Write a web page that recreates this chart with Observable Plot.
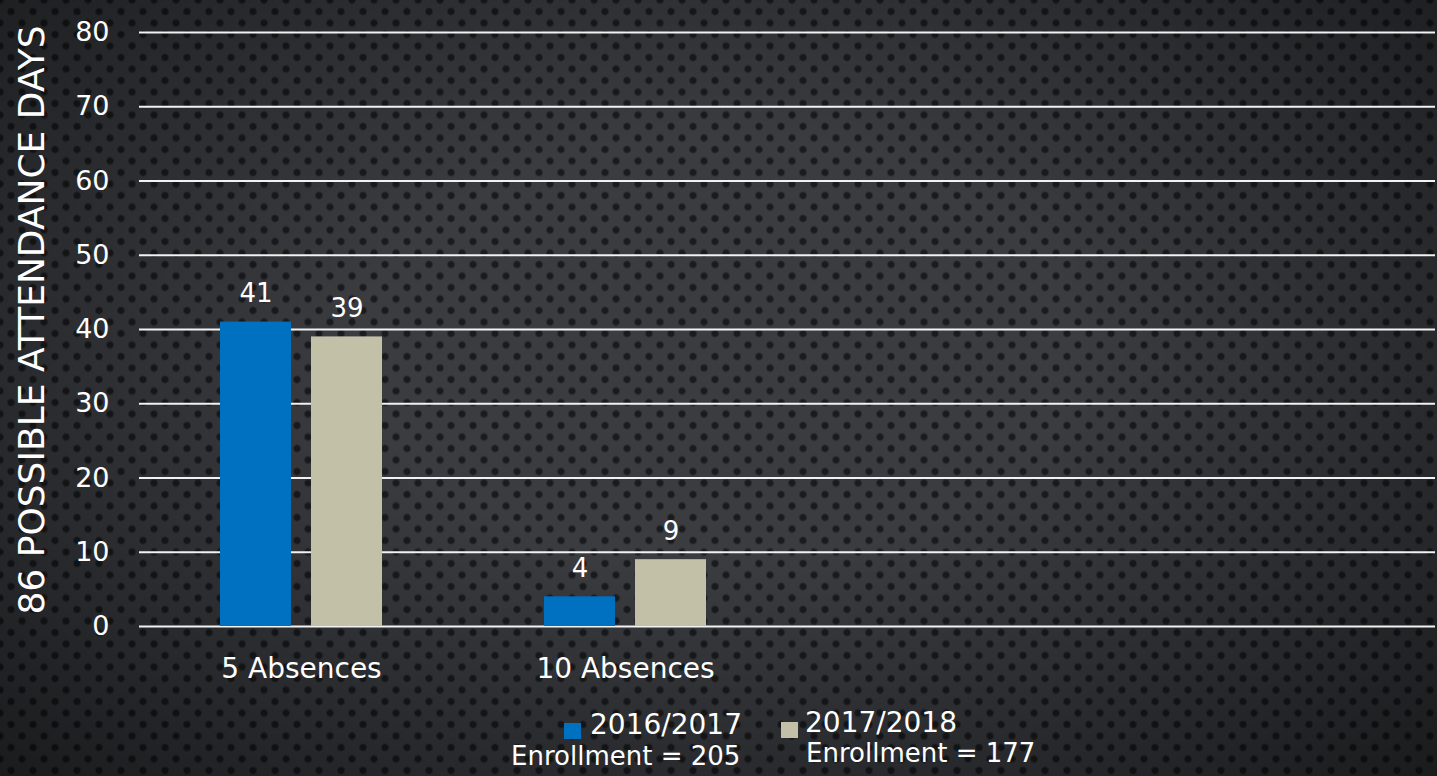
<!DOCTYPE html>
<html>
<head>
<meta charset="utf-8">
<script src="https://cdn.jsdelivr.net/npm/d3@7"></script>
<script src="https://cdn.jsdelivr.net/npm/@observablehq/plot@0.6"></script>
<style>
  html, body { margin: 0; padding: 0; width: 1437px; height: 776px; overflow: hidden; }
  body {
    background-color: #3a3c40;
    background-image:
      radial-gradient(ellipse at 50% 45%, rgba(0,0,0,0) 35%, rgba(0,0,0,0.55) 100%),
      radial-gradient(circle, rgba(20,21,24,0.85) 2.5px, rgba(20,21,24,0) 4.5px),
      radial-gradient(circle, rgba(20,21,24,0.85) 2.5px, rgba(20,21,24,0) 4.5px);
    background-size: 100% 100%, 22px 23px, 22px 23px;
    background-position: 0 0, 0 0, 11px 11.5px;
    font-family: "DejaVu Sans", sans-serif;
    color: #fff;
  }
  #chart { position: relative; width: 1437px; height: 700px; }
  #legend { position: relative; width: 1437px; height: 76px; font-family: "DejaVu Sans", sans-serif; color: #fff; }
  #legend .sw { position: absolute; width: 17px; height: 16px; }
  #legend .t { position: absolute; white-space: nowrap; line-height: 1; }
</style>
</head>
<body>
<div id="chart"></div>
<div id="legend"></div>
<script>
const categories = ["5 Absences", "10 Absences", "c3", "c4"];
const categoryLabels = ["5 Absences", "10 Absences", "", ""];
const series = ["2016/2017", "2017/2018"];
const values2016 = [41, 4];
const values2017 = [39, 9];
const enrollment = [205, 177];
const colors = ["#0070c0", "#c2c1a8"];
const yTicks = [0, 10, 20, 30, 40, 50, 60, 70, 80];

const data = [];
categories.slice(0, 2).forEach((c, i) => {
  data.push({category: c, series: series[0], value: values2016[i]});
  data.push({category: c, series: series[1], value: values2017[i]});
});
const gridData = [];
categories.forEach(c => yTicks.forEach(t => gridData.push({category: c, tick: t})));
const fxFormat = d => categoryLabels[categories.indexOf(d)];

const chart = Plot.plot({
  width: 1437,
  height: 700,
  marginTop: 32,
  marginBottom: 74,
  marginLeft: 139,
  marginRight: 2,
  style: {background: "transparent", color: "#fff", fontFamily: "DejaVu Sans, sans-serif", fontSize: "26px", overflow: "visible"},
  fx: {domain: categories, paddingInner: 0, paddingOuter: 0, label: null, tickFormat: fxFormat},
  x: {domain: series, paddingInner: 0.217, paddingOuter: 0.87, axis: null},
  y: {domain: [0, 80], ticks: yTicks, label: null},
  color: {domain: series, range: colors},
  marks: [
    Plot.ruleY(gridData, {fx: "category", y: "tick", stroke: "#f2f2f2", strokeWidth: 2}),
    Plot.barY(data, {fx: "category", x: "series", y: "value", fill: "series"}),
    Plot.text(data, {fx: "category", x: "series", y: "value", text: d => String(d.value), dy: -28, fill: "#fff", fontSize: 26}),
    Plot.axisY({ticks: yTicks, tickSize: 0, tickPadding: 30, fontSize: 27, label: null}),
    Plot.axisFx({anchor: "bottom", tickSize: 0, tickPadding: 32, fontSize: 28, label: null, tickFormat: fxFormat})
  ]
});
document.getElementById("chart").appendChild(chart);

const svg = d3.select(chart.tagName === "svg" ? chart : chart.querySelector("svg"));
svg.append("text")
  .attr("transform", "translate(34,320) rotate(-90)")
  .attr("text-anchor", "middle")
  .attr("dominant-baseline", "middle")
  .attr("fill", "#fff")
  .attr("font-size", 36)
  .attr("font-family", "DejaVu Sans, sans-serif")
  .text("86 POSSIBLE ATTENDANCE DAYS");

const legend = document.getElementById("legend");
const legendLayout = [
  {sw: [564, 23], name: [590, 11], enr: [511, 43]},
  {sw: [781, 22], name: [805, 9], enr: [806, 40]}
];
series.forEach((s, i) => {
  const L = legendLayout[i];
  const sw = document.createElement("div");
  sw.className = "sw"; sw.style.left = L.sw[0] + "px"; sw.style.top = L.sw[1] + "px"; sw.style.background = colors[i];
  legend.appendChild(sw);
  const t = document.createElement("div");
  t.className = "t"; t.style.left = L.name[0] + "px"; t.style.top = L.name[1] + "px"; t.style.fontSize = "28px";
  t.textContent = s; legend.appendChild(t);
  const e = document.createElement("div");
  e.className = "t"; e.style.left = L.enr[0] + "px"; e.style.top = L.enr[1] + "px"; e.style.fontSize = "26px";
  e.textContent = "Enrollment = " + enrollment[i]; legend.appendChild(e);
});
</script>
</body>
</html>
